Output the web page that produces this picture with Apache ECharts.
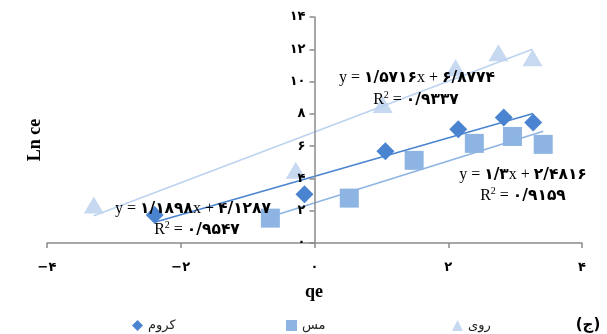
<!DOCTYPE html>
<html><head><meta charset="utf-8">
<script src="https://cdn.jsdelivr.net/npm/echarts@6/dist/echarts.min.js"></script>
<style>html,body{margin:0;padding:0;background:#fff}#c{width:607px;height:334px}</style>
</head><body><div id="c"></div>
<script>
// ---- data ----
const seriesNames = ['کروم', 'مس', 'روی'];
const chromeX = [-2.39, -0.15, 1.06, 2.15, 2.83, 3.27];
const chromeY = [1.73, 3.02, 5.68, 7.04, 7.78, 7.47];
const copperX = [-0.66, 0.52, 1.49, 2.39, 2.96, 3.42];
const copperY = [1.54, 2.78, 5.12, 6.17, 6.60, 6.11];
const zincX = [-3.30, -0.28, 1.02, 2.11, 2.75, 3.26];
const zincY = [2.35, 4.50, 8.58, 10.86, 11.79, 11.48];
// trendline coefficients as printed on the chart
const trendSlope = [1.1898, 1.3, 1.5716];
const trendIntercept = [4.1287, 2.4816, 6.8774];
const slopeText = ['۱/۱۸۹۸', '۱/۳', '۱/۵۷۱۶'];
const interceptText = ['۴/۱۲۸۷', '۲/۴۸۱۶', '۶/۸۷۷۴'];
const r2Text = ['۰/۹۵۴۷', '۰/۹۱۵۹', '۰/۹۳۳۷'];
const xTitle = 'qe';
const yTitle = 'Ln ce';
const panelLabel = '(ج)';

const fa = v => String(v).replace(/\d/g, d => '۰۱۲۳۴۵۶۷۸۹'[d]).replace('-', '−').replace('.', '/');
const pairs = (xs, ys) => xs.map((x, i) => [x, ys[i]]);
const trend = (xs, k) => {
  const a = Math.min(...xs), b = Math.max(...xs);
  return [[a, trendSlope[k] * a + trendIntercept[k]], [b, trendSlope[k] * b + trendIntercept[k]]];
};
const colors = ['#4a84d0', '#8db4e2', '#c6d9f1'];
const lineColors = ['#4a84d0', '#8db4e2', '#bcd3ef'];
const sets = [[chromeX, chromeY], [copperX, copperY], [zincX, zincY]];
const symbols = ['diamond', 'rect', 'triangle'];
const sizes = [18, 19, [20, 17]];

const chart = echarts.init(document.getElementById('c'), null, {renderer: 'canvas'});
const series = [];
sets.forEach((s, k) => {
  series.push({
    name: seriesNames[k], type: 'scatter', data: pairs(s[0], s[1]),
    symbol: symbols[k], symbolSize: sizes[k],
    itemStyle: {color: colors[k], opacity: 1}, z: 2, silent: true
  });
});
sets.forEach((s, k) => {
  series.push({
    name: 'trend' + k, type: 'line', data: trend(s[0], k), symbol: 'none',
    lineStyle: {color: lineColors[k], width: 1.6}, z: 3, silent: true
  });
});

const rich = {
  t: {font: '16px "Liberation Serif", serif', fill: '#000', lineHeight: 20},
  d: {font: 'bold 15.5px "DejaVu Sans", sans-serif', fill: '#000', lineHeight: 20},
  s: {font: '10px "Liberation Serif", serif', fill: '#000', lineHeight: 10, verticalAlign: 'top'}
};
const eqPos = [[193, 209, 197, 230], [523, 175, 523, 196], [417, 78, 416, 100]];
const graphics = [];
eqPos.forEach((p, k) => {
  graphics.push({type: 'text', x: p[0], y: p[1], z: 10,
    style: {text: '{t|y = }{d|' + slopeText[k] + '}{t|x + }{d|' + interceptText[k] + '}', rich: rich,
      textAlign: 'center', textVerticalAlign: 'middle'}});
  graphics.push({type: 'text', x: p[2], y: p[3], z: 10,
    style: {text: '{t|R}{s|2}{t| = }{d|' + r2Text[k] + '}', rich: rich,
      textAlign: 'center', textVerticalAlign: 'middle'}});
});
graphics.push({type: 'text', x: 35, y: 140, rotation: Math.PI / 2, z: 10,
  style: {text: yTitle, font: 'bold 18px "Liberation Serif", serif', fill: '#000', textAlign: 'center', textVerticalAlign: 'middle'}});
graphics.push({type: 'text', x: 314, y: 292, z: 10,
  style: {text: xTitle, font: 'bold 18px "Liberation Serif", serif', fill: '#000', textAlign: 'center', textVerticalAlign: 'middle'}});
graphics.push({type: 'text', x: 588, y: 325, z: 10,
  style: {text: panelLabel, font: 'bold 15px "DejaVu Sans", sans-serif', fill: '#000', textAlign: 'center', textVerticalAlign: 'middle'}});

const legendLeft = [132, 286, 452];
const legends = seriesNames.map((n, k) => ({
  data: [{name: n, icon: symbols[k]}], left: legendLeft[k], top: 319, padding: 0,
  itemWidth: 11, itemHeight: 11, itemGap: 5,
  textStyle: {fontSize: 13, color: '#222', fontFamily: '"DejaVu Sans", sans-serif'},
  selectedMode: false
}));

chart.setOption({
  animation: false,
  backgroundColor: '#fff',
  grid: {left: 47, right: 25, top: 17, bottom: 91},
  xAxis: {type: 'value', min: -4, max: 4, interval: 2, z: 5,
    axisLine: {onZero: false, lineStyle: {color: '#8a8a8a', width: 1.5}},
    axisTick: {show: true, length: 5, lineStyle: {color: '#8a8a8a', width: 1.5}},
    axisLabel: {formatter: v => fa(v), color: '#000', fontWeight: 'bold', fontSize: 13, margin: 18, fontFamily: '"DejaVu Sans", sans-serif'},
    splitLine: {show: false}},
  yAxis: {type: 'value', min: 0, max: 14, interval: 2, position: 'left', offset: -267.5, z: 5,
    axisLine: {show: true, onZero: false, lineStyle: {color: '#8a8a8a', width: 1.5}},
    axisTick: {show: true, length: 5, lineStyle: {color: '#8a8a8a', width: 1.5}},
    axisLabel: {formatter: v => fa(v), color: '#000', fontWeight: 'bold', fontSize: 13, margin: 9, fontFamily: '"DejaVu Sans", sans-serif'},
    splitLine: {show: false}},
  legend: legends,
  series: series,
  graphic: graphics
});
</script></body></html>
